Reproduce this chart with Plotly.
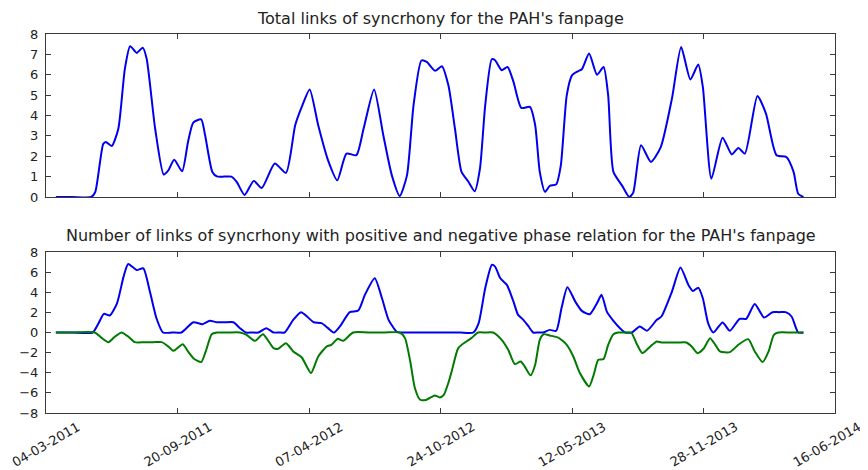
import pandas as pd
import plotly.graph_objects as go
from plotly.subplots import make_subplots

START = "2011-03-04"

# Total links (top panel): day offset from START, value
total_days = [15, 40, 69, 75, 87, 91, 100, 110, 120, 128, 138, 147, 153, 166, 179, 186, 195, 207, 216, 224, 236,
              242, 253, 260, 271, 282, 290, 302, 316, 328, 348, 365, 379, 389, 401, 414, 429, 443, 457, 472, 483,
              499, 513, 526, 538, 549, 559, 571, 579, 592, 602, 612, 622, 632, 642, 652, 660, 668, 678, 683,
              693, 702, 711, 723, 736, 744, 751, 759, 766, 776, 783, 792, 800, 809, 815, 826, 838, 848, 855,
              863, 876, 887, 893, 905, 920, 935, 952, 966, 980, 992, 999, 1012, 1029, 1043, 1053, 1063, 1082,
              1095, 1111, 1126, 1137, 1144, 1152]
total_vals = [0, 0, 0, 0.25, 2.6, 2.7, 2.5, 3.35, 6.3, 7.4, 7.07, 7.33, 6.8, 3.35, 1.1, 1.3, 1.83, 1.26, 2.7, 3.65,
              3.81, 3.03, 1.23, 1.01, 1.0, 1.0, 0.74, 0.1, 0.79, 0.44, 1.64, 1.18, 3.52, 4.42, 5.28, 3.52, 1.8, 0.82,
              2.13, 2.05, 3.35, 5.28, 3.03, 1.06, 0.05, 1.06, 4.5, 6.7, 6.63, 6.19, 6.42, 5.48, 3.35, 1.23, 0.77,
              0.28, 1.39, 4.5, 6.76, 6.71, 6.22, 6.38, 5.65, 4.37, 4.42, 3.52, 1.23, 0.25, 0.54, 0.62, 1.55, 4.99,
              5.97, 6.17, 6.27, 7.04, 6.0, 6.38, 4.99, 1.23, 0.57, 0, 0.2, 2.54, 1.72, 2.45, 4.83, 7.36, 5.77,
              6.5, 5.4, 0.9, 2.91, 2.09, 2.4, 2.13, 4.96, 4.09, 2.05, 1.96, 1.23, 0.16, 0]

# Positive phase links (bottom panel, blue)
pos_days = [15, 40, 71, 80, 88, 97, 108, 118, 125, 138, 148, 158, 168, 178, 192, 206, 224, 238, 249, 260, 272, 285,
            295, 304, 313, 323, 335, 346, 354, 363, 376, 388, 397, 407, 419, 429, 438, 447, 462, 475, 485, 500,
            511, 521, 533, 538, 560, 585, 610, 630, 650, 658, 668, 678, 683, 691, 701, 711, 718, 726, 734, 741,
            748, 756, 766, 776, 784, 793, 805, 815, 827, 838, 845, 853, 863, 873, 881, 891, 903, 914, 929, 936,
            952, 965, 977, 984, 992, 999, 1007, 1015, 1029, 1040, 1055, 1065, 1078, 1092, 1105, 1115, 1125, 1134,
            1144, 1152]
pos_vals = [0, 0, 0, 0.93, 1.85, 1.69, 2.9, 5.55, 6.81, 6.2, 6.38, 4.07, 1.42, 0, 0, 0, 1.02, 0.83, 1.16, 1.02,
            1.02, 1.02, 0.43, 0, 0, 0, 0.43, 0, 0, 0, 1.26, 2.02, 1.59, 1.02, 0.93, 0.43, 0, 0.6, 2.02, 2.18, 3.74,
            5.39, 3.4, 1.26, 0.1, 0, 0, 0, 0, 0, 0, 0.93, 4.4, 6.71, 6.55, 5.39, 4.73, 3.07, 1.75, 1.26, 0.6, 0,
            0, 0, 0.26, 0.17, 2.41, 4.5, 3.07, 2.15, 1.82, 2.91, 3.74, 2.08, 1.16, 0.43, 0, 0, 0.6, 0.17, 1.26,
            1.59, 4.07, 6.45, 4.73, 4.13, 4.46, 3.4, 0.93, 0, 0.99, 0.17, 1.36, 1.36, 2.84, 1.49, 2.02, 2.02,
            2.02, 1.59, 0, 0]

# Negative phase links (bottom panel, green)
neg_days = [15, 40, 74, 85, 95, 105, 115, 125, 135, 150, 163, 176, 186, 194, 208, 216, 225, 236, 243, 252, 260,
            278, 295, 305, 318, 330, 346, 353, 365, 376, 389, 403, 414, 427, 434, 444, 452, 467, 490, 515, 538,
            546, 554, 561, 569, 579, 591, 599, 605, 612, 617, 627, 637, 647, 657, 668, 680, 693, 703, 713, 722,
            728, 737, 744, 751, 757, 766, 779, 792, 802, 812, 826, 833, 840, 848, 855, 863, 870, 880, 890, 898,
            907, 919, 929, 936, 948, 961, 974, 982, 991, 1000, 1010, 1018, 1025, 1040, 1053, 1068, 1078, 1090,
            1099, 1107, 1114, 1133, 1152]
neg_vals = [0, 0, 0, -0.56, -0.96, -0.4, 0, -0.4, -0.96, -0.96, -0.96, -0.96, -1.39, -1.82, -1.16, -1.88, -2.61,
            -2.94, -1.88, -0.17, 0, 0, 0, -0.23, -0.83, -0.17, -1.55, -1.62, -1.06, -1.88, -2.48, -4.03, -2.38,
            -1.39, -1.22, -0.63, -0.83, 0, 0, 0, 0, -0.56, -2.88, -5.52, -6.68, -6.68, -6.25, -6.45, -6.2, -5.0,
            -3.87, -1.55, -0.99, -0.56, 0, 0, 0, -0.73, -1.72, -3.14, -2.88, -3.37, -4.26, -3.2, -0.73, -0.17,
            -0.3, -0.5, -1.22, -2.38, -4.03, -5.36, -4.2, -2.71, -2.64, -1.22, -0.17, 0, 0, 0, -1.06, -2.05,
            -1.39, -0.89, -0.99, -0.99, -0.99, -0.99, -1.39, -2.05, -1.62, -0.56, -1.22, -1.88, -1.95, -1.22,
            -0.66, -1.88, -2.94, -1.88, -0.23, 0, 0, 0]

tick_dates = ["2011-03-04", "2011-09-20", "2012-04-07", "2012-10-24", "2013-05-12", "2013-11-28", "2014-06-16"]
tick_labels = ["04-03-2011", "20-09-2011", "07-04-2012", "24-10-2012", "12-05-2013", "28-11-2013", "16-06-2014"]

title_top = "Total links of syncrhony for the PAH's fanpage"
title_bottom = "Number of links of syncrhony with positive and negative phase relation for the PAH's fanpage"


def to_dates(days):
    return pd.Timestamp(START) + pd.to_timedelta(days, unit="D")


FONT = "DejaVu Sans"
BLUE = "#0000ee"
GREEN = "#007a00"
FRAME = "#3a3a3a"
TXT = "#222222"
SMOOTH = 0.6

fig = make_subplots(rows=2, cols=1, vertical_spacing=0.0)

fig.add_trace(go.Scatter(x=to_dates(total_days), y=total_vals, mode="lines",
                         line=dict(color=BLUE, width=2, shape="spline", smoothing=SMOOTH)), row=1, col=1)
fig.add_trace(go.Scatter(x=to_dates(pos_days), y=pos_vals, mode="lines",
                         line=dict(color=BLUE, width=2, shape="spline", smoothing=SMOOTH)), row=2, col=1)
fig.add_trace(go.Scatter(x=to_dates(neg_days), y=neg_vals, mode="lines",
                         line=dict(color=GREEN, width=2, shape="spline", smoothing=SMOOTH)), row=2, col=1)

xrange = ["2011-03-04", "2014-06-16"]
common_x = dict(range=xrange, tickmode="array", tickvals=tick_dates, ticks="inside", ticklen=5,
                tickcolor=FRAME, showline=True, linecolor=FRAME, linewidth=1, mirror="ticks",
                showgrid=False, zeroline=False, showticklabels=False, automargin=False)
common_y = dict(ticks="inside", ticklen=5, tickcolor=FRAME, showline=True, linecolor=FRAME, linewidth=1,
                mirror="ticks", showgrid=False, zeroline=False, automargin=False, ticklabelstandoff=4,
                tickfont=dict(family=FONT, size=13, color=TXT))

fig.update_xaxes(**common_x, row=1, col=1)
fig.update_xaxes(**common_x, row=2, col=1)
fig.update_yaxes(**common_y, range=[0, 8], tickvals=list(range(0, 9)), domain=[0.570, 1.0], row=1, col=1)
fig.update_yaxes(**common_y, range=[-8, 8], tickvals=list(range(-8, 9, 2)), domain=[0.0, 0.4248], row=2, col=1)

# rotated date labels centred under each tick (matplotlib style); last one nudged to stay inside the page
n_labels = len(tick_labels)
for i, (d, lab) in enumerate(zip(tick_dates, tick_labels)):
    fig.add_annotation(text=lab, x=d, xref="x2", y=0, yref="paper", yshift=-3,
                       xshift=(-8 if i == n_labels - 1 else 0),
                       xanchor="center", yanchor="top", textangle=-30, showarrow=False,
                       font=dict(family=FONT, size=13, color=TXT))

fig.add_annotation(text=title_top, xref="paper", yref="paper", x=0.5, y=1.0, yshift=4,
                   xanchor="center", yanchor="bottom", showarrow=False,
                   font=dict(family=FONT, size=16, color=TXT))
fig.add_annotation(text=title_bottom, xref="paper", yref="paper", x=0.5, y=0.4248, yshift=5,
                   xanchor="center", yanchor="bottom", showarrow=False,
                   font=dict(family=FONT, size=16, color=TXT))

# the page body adds an 8px offset, so the figure is 8px smaller and margins are shifted
fig.update_layout(width=860, height=462, margin=dict(l=38, r=33, t=26, b=57),
                  plot_bgcolor="white", paper_bgcolor="white", showlegend=False)

fig.write_html("out.html")
